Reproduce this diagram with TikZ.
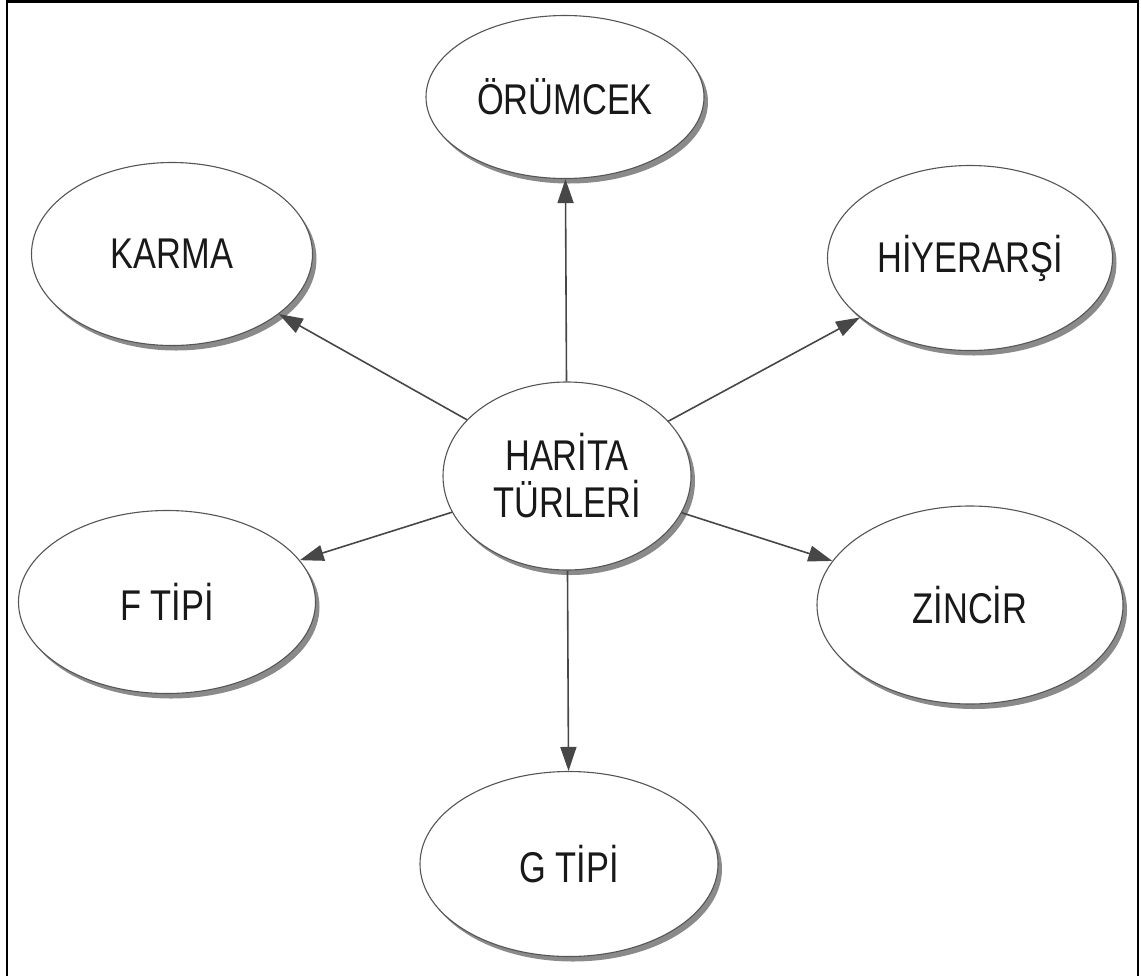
\documentclass[tikz,border=0pt]{standalone}
\usepackage{fontspec}
\newfontfamily\labelfont[FakeStretch=0.8]{Liberation Sans}
\usetikzlibrary{shapes.geometric,arrows.meta,shadows}
\definecolor{edgegray}{HTML}{555555}
\definecolor{arrowgray}{HTML}{474747}
\definecolor{shadowgray}{HTML}{8A8A8A}
\begin{document}
\begin{tikzpicture}[x=1pt,y=-1pt,
  bubble/.style={ellipse, draw=edgegray, line width=1.1pt, fill=white, inner sep=0pt,
    drop shadow={shadow xshift=4pt, shadow yshift=-5pt, fill=shadowgray, opacity=1},
    font=\labelfont\fontsize{43}{47}\selectfont, text=black!90, align=center},
  link/.style={draw=arrowgray, line width=1.6pt,
    -{Triangle[length=24pt,width=16pt]}}]
  \useasboundingbox (0,0) rectangle (1141,975);
  % open frame (its bottom edge lies below the page)
  \draw[line width=2.2pt] (7,980) -- (7,1.5) -- (1138,1.5) -- (1138,980);

  % central topic
  \node[bubble, minimum width=248pt, minimum height=188pt] (hub) at (567,476) {HARİTA\\TÜRLERİ};

  % map types around it
  \node[bubble, minimum width=278pt, minimum height=163pt] (orumcek) at (565,97)  {ÖRÜMCEK};
  \node[bubble, minimum width=281pt, minimum height=183pt] (karma)   at (172,254) {KARMA};
  \node[bubble, minimum width=285pt, minimum height=185pt] (hiyer)   at (970,258) {HİYERARŞİ};
  \node[bubble, minimum width=297pt, minimum height=183pt] (ftipi)   at (167,602) {F TİPİ};
  \node[bubble, minimum width=306pt, minimum height=198pt] (zincir)  at (970,605) {ZİNCİR};
  \node[bubble, minimum width=298pt, minimum height=185pt] (gtipi)   at (569,864) {G TİPİ};

  % connectors
  \draw[link] (hub) -- (orumcek);
  \draw[link] (hub) -- (karma);
  \draw[link] (hub) -- (hiyer);
  \draw[link] (hub) -- (ftipi);
  \draw[link] (hub) -- (zincir);
  \draw[link] (hub) -- (gtipi);
\end{tikzpicture}
\end{document}
